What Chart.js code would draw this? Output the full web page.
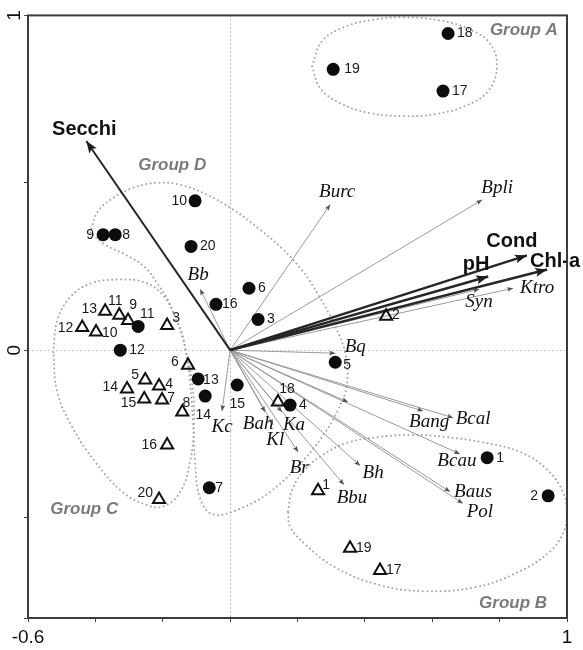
<!DOCTYPE html>
<html>
<head>
<meta charset="utf-8">
<script src="https://cdn.jsdelivr.net/npm/chart.js@4.4.0/dist/chart.umd.min.js"></script>
<style>
  html, body { margin: 0; padding: 0; background: #fff; }
  #wrap { width: 583px; height: 650px; }
</style>
</head>
<body>
<div id="wrap"><canvas id="rda" width="583" height="650"></canvas></div>
<script>
// ---- Site scores: filled circles ----
const filledIds = ['1','2','3','4','5','6','7','8','9','10','11','12','13','14','15','16','17','18','19','20'];
const filledX = [0.763, 0.944, 0.083, 0.178, 0.312, 0.056, -0.062, -0.341, -0.377, -0.104, -0.273, -0.326, -0.095, -0.074, 0.021, -0.042, 0.632, 0.647, 0.306, -0.116];
const filledY = [-0.321, -0.435, 0.092, -0.164, -0.036, 0.185, -0.411, 0.345, 0.345, 0.446, 0.071, 0.000, -0.086, -0.137, -0.104, 0.137, 0.774, 0.946, 0.839, 0.310];

// ---- Site scores: open triangles ----
const openIds = ['1','2','3','4','5','6','7','8','9','10','11','12','13','14','15','16','17','18','19','20'];
const openX = [0.261, 0.463, -0.187, -0.211, -0.252, -0.125, -0.202, -0.142, -0.303, -0.398, -0.329, -0.439, -0.371, -0.306, -0.255, -0.187, 0.445, 0.142, 0.356, -0.211];
const openY = [-0.420, 0.101, 0.074, -0.107, -0.089, -0.045, -0.149, -0.185, 0.089, 0.054, 0.104, 0.068, 0.116, -0.116, -0.146, -0.283, -0.658, -0.155, -0.592, -0.446];

// ---- Environmental variables (arrow tips) ----
const envNames = ['Secchi', 'Cond', 'Chl-a', 'pH'];
const envX = [-0.427, 0.881, 0.941, 0.766];
const envY = [0.625, 0.283, 0.241, 0.220];

// ---- Taxa (arrow tips) ----
const taxaNames = ['Burc', 'Bpli', 'Ktro', 'Syn', 'Bq', 'Kc', 'Bah', 'Kl', 'Ka', 'Br', 'Bh', 'Bbu', 'Bang', 'Bcal', 'Bcau', 'Baus', 'Pol', 'Bb', ''];
const taxaX = [0.297, 0.748, 0.840, 0.739, 0.312, -0.024, 0.104, 0.128, 0.154, 0.202, 0.386, 0.338, 0.573, 0.662, 0.682, 0.653, 0.691, -0.089, 0.350];
const taxaY = [0.435, 0.449, 0.185, 0.182, -0.009, -0.182, -0.185, -0.223, -0.185, -0.304, -0.345, -0.402, -0.182, -0.202, -0.310, -0.423, -0.458, 0.182, -0.155];

// ---- Group outlines ----
const groupAX = [0.243, 0.273, 0.341, 0.430, 0.519, 0.623, 0.712, 0.772, 0.792, 0.766, 0.697, 0.608, 0.519, 0.415, 0.326, 0.267, 0.243];
const groupAY = [0.848, 0.923, 0.966, 0.988, 0.994, 0.985, 0.958, 0.915, 0.848, 0.774, 0.729, 0.705, 0.699, 0.708, 0.738, 0.783, 0.848];
const groupBX = [0.172, 0.184, 0.217, 0.267, 0.347, 0.445, 0.534, 0.638, 0.742, 0.861, 0.941, 0.988, 1.000, 0.994, 0.950, 0.846, 0.727, 0.579, 0.445, 0.312, 0.223, 0.178, 0.172];
const groupBY = [-0.482, -0.417, -0.363, -0.318, -0.277, -0.259, -0.253, -0.259, -0.274, -0.304, -0.357, -0.423, -0.488, -0.533, -0.601, -0.667, -0.708, -0.720, -0.702, -0.649, -0.580, -0.527, -0.482];
const groupCX = [-0.525, -0.513, -0.475, -0.415, -0.326, -0.252, -0.199, -0.163, -0.134, -0.113, -0.107, -0.119, -0.148, -0.199, -0.252, -0.320, -0.401, -0.469, -0.513, -0.525];
const groupCY = [-0.006, 0.089, 0.158, 0.199, 0.211, 0.202, 0.164, 0.098, 0.009, -0.095, -0.214, -0.333, -0.423, -0.467, -0.461, -0.423, -0.333, -0.229, -0.125, -0.006];
const groupDX = [-0.415, -0.395, -0.356, -0.288, -0.217, -0.148, -0.068, 0.009, 0.089, 0.157, 0.214, 0.261, 0.306, 0.341, 0.347, 0.320, 0.273, 0.208, 0.119, 0.030, -0.050, -0.089, -0.104, -0.110, -0.119, -0.131, -0.142, -0.163, -0.184, -0.214, -0.252, -0.312, -0.371, -0.415];
const groupDY = [0.351, 0.411, 0.449, 0.485, 0.500, 0.494, 0.464, 0.420, 0.360, 0.301, 0.238, 0.167, 0.083, -0.006, -0.101, -0.179, -0.259, -0.339, -0.423, -0.473, -0.491, -0.443, -0.333, -0.214, -0.095, -0.006, 0.048, 0.098, 0.149, 0.196, 0.247, 0.286, 0.315, 0.351];

const groupNames = ['Group A', 'Group B', 'Group C', 'Group D'];
const groupLabelX = [0.872, 0.840, -0.433, -0.172];
const groupLabelY = [0.955, -0.756, -0.476, 0.551];

// ---- Axis tick labels ----
const xTickValues = [-0.6, 1];
const xTickText = ['-0.6', '1'];
const yTickValues = [0, 1];
const yTickText = ['0', '1'];

// ---- Label placement (pixel offsets from the mark) ----
const envLabelOffset = { 'Secchi': [-2, -11], 'Cond': [-15, -14], 'Chl-a': [8, -8], 'pH': [-12, -12] };
const taxaLabelOffset = {
  Burc: [7, -13], Bpli: [15, -12], Ktro: [24, 0], Syn: [0, 13], Bq: [20, -6], Kc: [0, 16],
  Bah: [-7, 12], Kl: [2, 15], Ka: [12, 13], Br: [1, 16], Bh: [13, 7], Bbu: [8, 13],
  Bang: [6, 11], Bcal: [20, 1], Bcau: [-3, 7], Baus: [23, 0], Pol: [17, 8], Bb: [-2, -14]
};
const filledLabelOffset = {
  '9': [-9, 0, 'right'], '10': [-8, 0, 'right'], '2': [-10, 0, 'right'], '11': [9, -12, 'center'],
  '15': [0, 19, 'center'], '14': [-2, 19, 'center'], '5': [8, 3, 'left'], '13': [5, 1, 'left'],
  '16': [6, 0, 'left'], '8': [7, 0, 'left'], '19': [11, 0, 'left'], '7': [6, 0, 'left']
};
const openLabelOffset = {
  '13': [-8, -2, 'right'], '11': [-4, -14, 'center'], '9': [5, -15, 'center'], '12': [-9, 1, 'right'],
  '10': [6, 1, 'left'], '3': [9, -7, 'center'], '6': [-13, -3, 'center'], '5': [-10, -5, 'center'],
  '4': [10, -2, 'center'], '14': [-9, -2, 'right'], '15': [-8, 4, 'right'], '7': [9, -2, 'center'],
  '8': [4, -9, 'center'], '16': [-10, 0, 'right'], '20': [-6, -6, 'right'], '18': [9, -13, 'center'],
  '2': [6, -1, 'left'], '1': [8, -6, 'center'], '19': [6, 0, 'left'], '17': [6, 0, 'left']
};

const SANS = "'Liberation Sans', Arial, sans-serif";
const SERIF = "'Liberation Serif', 'Times New Roman', serif";

const zip = (xs, ys) => xs.map((v, i) => ({ x: v, y: ys[i] }));

const datasets = [];

datasets.push({
  kind: 'sites', ids: filledIds, offsets: filledLabelOffset, defaultOffset: [9, 0, 'left'],
  data: zip(filledX, filledY), pointStyle: 'circle', pointRadius: 6.5,
  backgroundColor: '#0d0d0d', borderColor: '#0d0d0d', borderWidth: 0, order: 0
});
datasets.push({
  kind: 'sites', ids: openIds, offsets: openLabelOffset, defaultOffset: [7, 0, 'left'],
  data: zip(openX, openY), pointStyle: 'triangle', pointRadius: 7,
  backgroundColor: 'rgba(255,255,255,0)', borderColor: '#111', borderWidth: 2, order: 0
});

envNames.forEach((name, i) => {
  datasets.push({
    kind: 'env', label: name, data: [{ x: 0, y: 0 }, { x: envX[i], y: envY[i] }],
    showLine: true, borderColor: '#262626', borderWidth: name === 'Secchi' ? 2 : 2.4,
    pointRadius: 0, order: 1
  });
});
taxaNames.forEach((name, i) => {
  datasets.push({
    kind: 'taxon', label: name, data: [{ x: 0, y: 0 }, { x: taxaX[i], y: taxaY[i] }],
    showLine: true, borderColor: '#9a9a9a', borderWidth: 1,
    pointRadius: 0, order: 2
  });
});
[[groupAX, groupAY], [groupBX, groupBY], [groupCX, groupCY], [groupDX, groupDY]].forEach(([gx, gy]) => {
  datasets.push({
    kind: 'outline', data: zip(gx, gy), showLine: true, tension: 0.4,
    borderColor: '#a5a5a5', borderWidth: 2, borderDash: [0.01, 4.4], borderCapStyle: 'round',
    pointRadius: 0, order: 3
  });
});

function drawArrowHead(ctx, p0, p1, len, half, color) {
  const a = Math.atan2(p1.y - p0.y, p1.x - p0.x);
  const c = Math.cos(a), s = Math.sin(a);
  ctx.fillStyle = color;
  ctx.beginPath();
  ctx.moveTo(p1.x, p1.y);
  ctx.lineTo(p1.x - len * c - half * s, p1.y - len * s + half * c);
  ctx.lineTo(p1.x - len * c * 0.8, p1.y - len * s * 0.8);
  ctx.lineTo(p1.x - len * c + half * s, p1.y - len * s - half * c);
  ctx.closePath();
  ctx.fill();
}

const biplotDecor = {
  id: 'biplotDecor',
  beforeDatasetsDraw(chart) {
    const { ctx, chartArea: a, scales: { x, y } } = chart;
    ctx.save();
    ctx.strokeStyle = '#b8b8b8';
    ctx.lineWidth = 1.2;
    ctx.setLineDash([1.5, 2.5]);
    const x0 = Math.round(x.getPixelForValue(0)) + 0.5;
    const y0 = Math.round(y.getPixelForValue(0)) + 0.5;
    ctx.beginPath();
    ctx.moveTo(x0, a.top); ctx.lineTo(x0, a.bottom);
    ctx.moveTo(a.left, y0); ctx.lineTo(a.right, y0);
    ctx.stroke();
    ctx.restore();
  },
  afterDatasetsDraw(chart) {
    const { ctx, scales: { x, y } } = chart;
    ctx.save();
    ctx.textBaseline = 'middle';
    chart.data.datasets.forEach((ds, i) => {
      const pts = chart.getDatasetMeta(i).data;
      if (ds.kind === 'env' || ds.kind === 'taxon') {
        const env = ds.kind === 'env';
        drawArrowHead(ctx, pts[0], pts[1], env ? 12 : 6, env ? 4.5 : 2.4, env ? '#1e1e1e' : '#505050');
        if (!ds.label) return;
        const off = (env ? envLabelOffset : taxaLabelOffset)[ds.label] || [0, 0];
        ctx.fillStyle = '#111';
        ctx.textAlign = 'center';
        ctx.font = env ? 'bold 20px ' + SANS : 'italic 19px ' + SERIF;
        ctx.fillText(ds.label, pts[1].x + off[0], pts[1].y + off[1]);
      } else if (ds.kind === 'sites') {
        ctx.fillStyle = '#1a1a1a';
        ctx.font = '14px ' + SANS;
        pts.forEach((p, j) => {
          const id = ds.ids[j];
          const off = ds.offsets[id] || ds.defaultOffset;
          ctx.textAlign = off[2];
          ctx.fillText(id, p.x + off[0], p.y + off[1]);
        });
      }
    });
    ctx.fillStyle = '#7b7b7b';
    ctx.font = 'italic bold 17px ' + SANS;
    ctx.textAlign = 'center';
    groupNames.forEach((g, i) => {
      ctx.fillText(g, x.getPixelForValue(groupLabelX[i]), y.getPixelForValue(groupLabelY[i]));
    });
    ctx.restore();
  },
  afterDraw(chart) {
    const { ctx, chartArea: a } = chart;
    ctx.save();
    ctx.strokeStyle = '#3c3c3c';
    ctx.lineWidth = 2;
    ctx.strokeRect(a.left, a.top, a.right - a.left, a.bottom - a.top);
    ctx.restore();
  }
};

function tickText(values, texts) {
  return (v) => {
    const k = values.findIndex(t => Math.abs(t - v) < 1e-6);
    return k >= 0 ? texts[k] : '';
  };
}

Chart.defaults.font.family = SANS;

new Chart(document.getElementById('rda'), {
  type: 'scatter',
  data: { datasets },
  options: {
    responsive: false,
    animation: false,
    events: [],
    layout: { padding: { top: 12, right: 16, left: 0, bottom: 0 } },
    plugins: { legend: { display: false }, tooltip: { enabled: false } },
    scales: {
      x: {
        type: 'linear', min: -0.6, max: 1,
        border: { display: false },
        grid: { drawOnChartArea: false, drawTicks: true, tickLength: 4, tickColor: '#444', tickWidth: 1 },
        ticks: {
          stepSize: 0.2, autoSkip: false, maxRotation: 0, padding: 4,
          color: '#111', font: { size: 19 },
          callback: tickText(xTickValues, xTickText)
        },
        afterFit: (s) => { s.height = 32; }
      },
      y: {
        type: 'linear', min: -0.8, max: 1,
        border: { display: false },
        grid: { drawOnChartArea: false, drawTicks: true, tickLength: 4, tickColor: '#444', tickWidth: 1 },
        ticks: {
          stepSize: 0.5, autoSkip: false, minRotation: 90, maxRotation: 90, crossAlign: 'center', padding: 4,
          color: '#111', font: { size: 19 },
          callback: tickText(yTickValues, yTickText)
        },
        afterFit: (s) => { s.width = 28; }
      }
    }
  },
  plugins: [biplotDecor]
});
</script>
</body>
</html>
